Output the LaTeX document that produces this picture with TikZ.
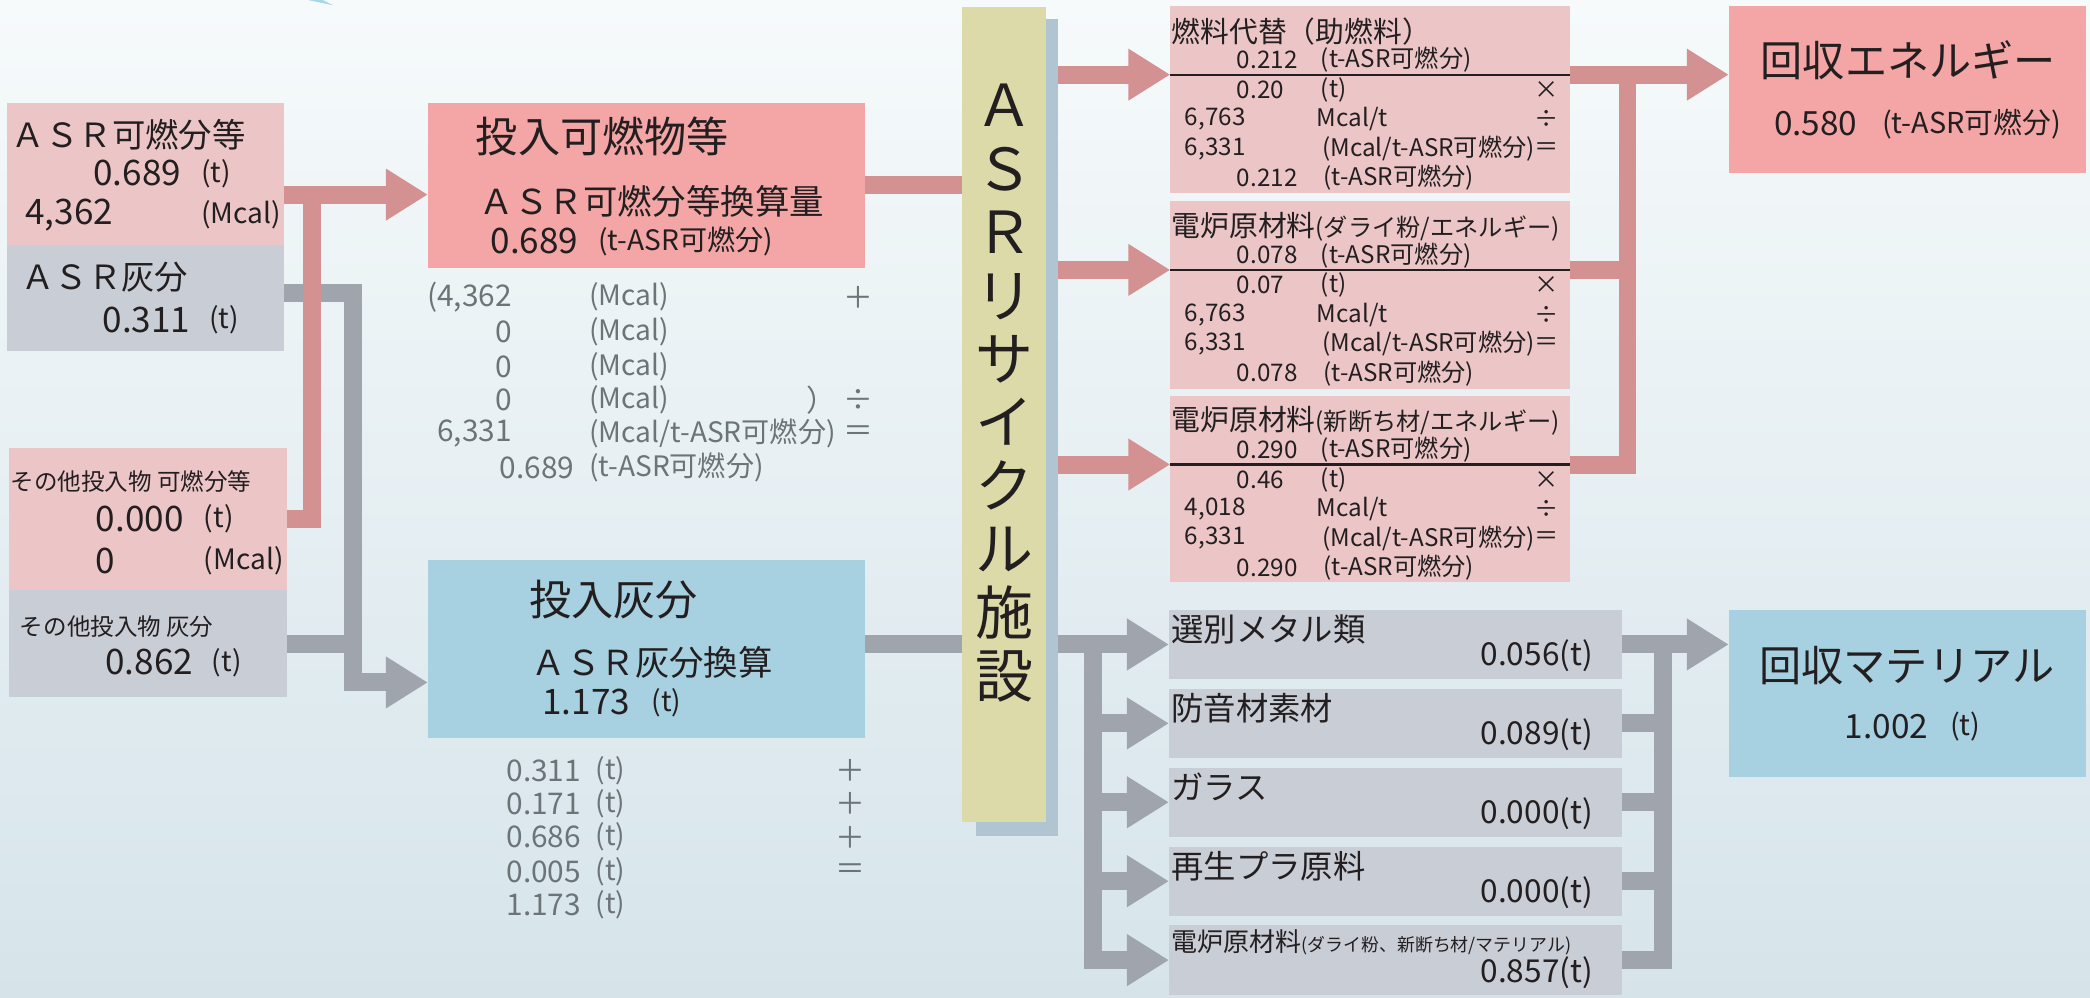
\documentclass[tikz,border=0pt]{standalone}
\usepackage{fontspec}
\setmainfont{Noto Sans CJK JP}
\usetikzlibrary{arrows.meta, fit, positioning}
\definecolor{bgtop}{RGB}{246,250,251}
\definecolor{bgbottom}{RGB}{214,228,234}
\definecolor{pinkcolor}{RGB}{236,198,199}
\definecolor{salmoncolor}{RGB}{243,166,165}
\definecolor{graycolor}{RGB}{201,205,213}
\definecolor{bluecolor}{RGB}{167,208,224}
\definecolor{barcolor}{RGB}{219,218,168}
\definecolor{shadecolor}{RGB}{176,196,209}
\definecolor{redflowcolor}{RGB}{211,145,146}
\definecolor{grayflowcolor}{RGB}{160,165,173}
\definecolor{inkcolor}{RGB}{35,31,32}
\definecolor{calccolor}{RGB}{108,116,120}
\definecolor{slivercolor}{RGB}{166,214,234}

\begin{document}
\begin{tikzpicture}[
    x=0.013333cm, y=-0.013333cm,
    plainbox/.style={inner sep=0pt, outer sep=0pt},
    pinkbox/.style={plainbox, fill=pinkcolor},
    salmonbox/.style={plainbox, fill=salmoncolor},
    graybox/.style={plainbox, fill=graycolor},
    bluebox/.style={plainbox, fill=bluecolor},
    txt/.style={inner sep=0pt, outer sep=0pt, anchor=west, text=inkcolor, font=\fontsize{#1}{#1}\selectfont},
    txtr/.style={txt=#1, anchor=east},
    txtc/.style={txt=#1, anchor=center},
    calctxt/.style={txt=#1, text=calccolor},
    calcr/.style={calctxt=#1, anchor=east},
    calcc/.style={calctxt=#1, anchor=center},
    redflow/.style={draw=redflowcolor, line width=1.8mm},
    grayflow/.style={draw=grayflowcolor, line width=1.8mm},
    flowtip/.style={-{Triangle[length=4.2mm, width=4.9mm]}},
    divider/.style={draw=inkcolor, line width=0.6pt}
]
    \useasboundingbox (0,0) rectangle (1568,748);
    \fill[top color=bgtop, bottom color=bgbottom] (0,0) rectangle (1568,748);
    \fill[slivercolor] (231,0) -- (242,0) -- (250,4) -- cycle;

    \node[pinkbox, fit={(5,77) (213,184)}] (asrc) {};
    \node[graybox, fit={(5,184) (213,263)}] (asra) {};
    \node[pinkbox, fit={(7,336) (215,443)}] (othc) {};
    \node[graybox, fit={(7,443) (215,523)}] (otha) {};
    \node[salmonbox, fit={(321,77) (649,201)}] (combin) {};
    \node[bluebox, fit={(321,420) (649,554)}] (ashin) {};
    \node[plainbox, fill=shadecolor, fit={(732,14) (794,627)}] (barsh) {};
    \node[plainbox, fill=barcolor, fit={(722,5) (785,617)}, align=center, text=inkcolor,
          font=\fontsize{16.5}{18.06}\selectfont] (bar) {Ａ\\Ｓ\\Ｒ\\リ\\サ\\イ\\ク\\ル\\施\\設};
    \node[pinkbox, fit={(878,4.5) (1178,145)}] (fuel) {};
    \node[pinkbox, fit={(878,151) (1178,292)}] (dalai) {};
    \node[pinkbox, fit={(878,297) (1178,437)}] (newcut) {};
    \node[graybox, fit={(877,457.5) (1217,509.5)}] (metal) {};
    \node[graybox, fit={(877,516.7) (1217,568.7)}] (sound) {};
    \node[graybox, fit={(877,575.9) (1217,627.9)}] (glass) {};
    \node[graybox, fit={(877,635.1) (1217,687.1)}] (plastic) {};
    \node[graybox, fit={(877,694.3) (1217,746.3)}] (furnace) {};
    \node[salmonbox, fit={(1297,4.5) (1565,130)}] (recen) {};
    \node[bluebox, fit={(1297,458) (1565,583)}] (remat) {};

    \coordinate (redjoin) at (234,146);
    \coordinate (grayjoin) at (264.5,219.5);
    \coordinate (graybend) at (264.5,512);
    \coordinate (fuel-in) at (878,56);
    \coordinate (fuel-out) at (1178,56);
    \coordinate (dalai-in) at (878,202.5);
    \coordinate (dalai-out) at (1178,202.5);
    \coordinate (newcut-in) at (878,348.5);
    \coordinate (newcut-out) at (1178,348.5);
    \coordinate (ejoin) at (1221,56);
    \coordinate (mtop) at (820,483.5);
    \coordinate (mjoin) at (1247.5,483.5);

    \draw[grayflow, flowtip] (asra.east |- grayjoin) -| (graybend) -- (ashin.west |- graybend);
    \draw[grayflow] (otha.east) -- (otha.east -| graybend);
    \draw[redflow, flowtip] (asrc.east |- redjoin) -- (combin.west |- redjoin);
    \draw[redflow] (othc.east) -| (redjoin);

    \draw[redflow] (combin.east) -- (combin.east -| bar.west);
    \draw[grayflow] (ashin.east |- metal.west) -- (bar.west |- metal.west);

    \draw[redflow, flowtip] (barsh.east |- fuel-in) -- (fuel-in);
    \draw[redflow, flowtip] (barsh.east |- dalai-in) -- (dalai-in);
    \draw[redflow, flowtip] (barsh.east |- newcut-in) -- (newcut-in);
    \draw[divider] (fuel-in) -- (fuel-out);
    \draw[divider] (dalai-in) -- (dalai-out);
    \draw[divider] (newcut-in) -- (newcut-out);
    \draw[redflow, flowtip] (fuel-out) -- (recen.west |- fuel-out);
    \draw[redflow] (newcut-out) -| (ejoin);
    \draw[redflow] (dalai-out) -- (dalai-out -| ejoin);

    \draw[grayflow, flowtip] (barsh.east |- metal.west) -- (metal.west);
    \draw[grayflow, flowtip] (mtop) |- (furnace.west);
    \draw[grayflow, flowtip] (mtop |- sound.west) -- (sound.west);
    \draw[grayflow, flowtip] (mtop |- glass.west) -- (glass.west);
    \draw[grayflow, flowtip] (mtop |- plastic.west) -- (plastic.west);
    \draw[grayflow, flowtip] (metal.east) -- (remat.west |- metal.east);
    \draw[grayflow] (furnace.east) -| (mjoin);
    \draw[grayflow] (sound.east) -- (sound.east -| mjoin);
    \draw[grayflow] (glass.east) -- (glass.east -| mjoin);
    \draw[grayflow] (plastic.east) -- (plastic.east -| mjoin);

    \node[txt=9.5] (asrc-name) at (9,101) {ＡＳＲ可燃分等};
    \node[txt=10] (asrc-ton) at (70,130) {0.689};
    \node[txt=8] (asrc-tonu) at (151,130) {(t)};
    \node[txt=10] (asrc-cal) at (19,161) {4,362};
    \node[txt=8] (asrc-calu) at (151,161) {(Mcal)};
    \node[txt=9.5] (asra-name) at (16,208) {ＡＳＲ灰分};
    \node[txt=10] (asra-ton) at (77,240) {0.311};
    \node[txt=8] (asra-tonu) at (157,240) {(t)};
    \node[txt=6.7] (othc-name) at (8,361) {その他投入物\ 可燃分等};
    \node[txt=10] (othc-ton) at (72,389) {0.000};
    \node[txt=8] (othc-tonu) at (153,389) {(t)};
    \node[txt=10] (othc-cal) at (72,421) {0};
    \node[txt=8] (othc-calu) at (153,421) {(Mcal)};
    \node[txt=6.7] (otha-name) at (15,470) {その他投入物\ 灰分};
    \node[txt=10] (otha-ton) at (79,497) {0.862};
    \node[txt=8] (otha-tonu) at (159,497) {(t)};

    \node[txt=12] (combin-head) at (357,102) {投入可燃物等};
    \node[txt=9.8] (combin-sub) at (360,151) {ＡＳＲ可燃分等換算量};
    \node[txt=10] (combin-val) at (368,181) {0.689};
    \node[txt=8] (combin-valu) at (449,181) {(t-ASR可燃分)};
    \node[calcr=8.5] (ec1) at (384,223) {(4,362};
    \node[calctxt=8] (ec1u) at (442,223) {(Mcal)};
    \node[calcc=8.5] (ec1o) at (644,223) {＋};
    \node[calcr=8.5] (ec2) at (384,249) {0};
    \node[calctxt=8] (ec2u) at (442,249) {(Mcal)};
    \node[calcr=8.5] (ec3) at (384,275) {0};
    \node[calctxt=8] (ec3u) at (442,275) {(Mcal)};
    \node[calcr=8.5] (ec4) at (384,300) {0};
    \node[calctxt=8] (ec4u) at (442,300) {(Mcal)};
    \node[calcc=8.5] (ec4p) at (616,300) {）};
    \node[calcc=8.5] (ec4o) at (644,300) {÷};
    \node[calcr=8.5] (ec5) at (384,325) {6,331};
    \node[calctxt=8] (ec5u) at (442,325) {(Mcal/t-ASR可燃分)};
    \node[calcc=8.5] (ec5o) at (644,325) {＝};
    \node[calctxt=8.5] (ec6) at (375,351) {0.689};
    \node[calctxt=8] (ec6u) at (442,351) {(t-ASR可燃分)};

    \node[txt=12] (ashin-head) at (397,450) {投入灰分};
    \node[txt=9.8] (ashin-sub) at (399,497) {ＡＳＲ灰分換算};
    \node[txt=10] (ashin-val) at (407,527) {1.173};
    \node[txt=8] (ashin-valu) at (489,527) {(t)};
    \node[calctxt=8.5] (ac1) at (380,578) {0.311};
    \node[calctxt=8] (ac1u) at (447,578) {(t)};
    \node[calcc=8.5] (ac1o) at (638,578) {＋};
    \node[calctxt=8.5] (ac2) at (380,603) {0.171};
    \node[calctxt=8] (ac2u) at (447,603) {(t)};
    \node[calcc=8.5] (ac2o) at (638,603) {＋};
    \node[calctxt=8.5] (ac3) at (380,628) {0.686};
    \node[calctxt=8] (ac3u) at (447,628) {(t)};
    \node[calcc=8.5] (ac3o) at (638,628) {＋};
    \node[calctxt=8.5] (ac4) at (380,654) {0.005};
    \node[calctxt=8] (ac4u) at (447,654) {(t)};
    \node[calcc=8.5] (ac4o) at (638,654) {＝};
    \node[calctxt=8.5] (ac5) at (380,679) {1.173};
    \node[calctxt=8] (ac5u) at (447,679) {(t)};

    \node[txt=8.2] (fuel-name) at (879,23.5) {燃料代替（助燃料）};
    \node[txt=6.9] (fuel-v) at (928,45) {0.212};
    \node[txt=6.9] (fuel-vu) at (991,45) {(t-ASR可燃分)};
    \node[txt=6.9] (fuel-t) at (928,67.5) {0.20};
    \node[txt=6.9] (fuel-tu) at (991,67.5) {(t)};
    \node[txtc=6.9] (fuel-to) at (1160,67.5) {×};
    \node[txt=6.9] (fuel-c) at (889,89.5) {6,763};
    \node[txt=6.9] (fuel-cu) at (988,89.5) {Mcal/t};
    \node[txtc=6.9] (fuel-co) at (1160,89.5) {÷};
    \node[txt=6.9] (fuel-k) at (889,111.5) {6,331};
    \node[txt=6.9] (fuel-ku) at (992,111.5) {(Mcal/t-ASR可燃分)};
    \node[txtc=6.9] (fuel-ko) at (1160,111.5) {＝};
    \node[txt=6.9] (fuel-res) at (928,133.5) {0.212};
    \node[txt=6.9] (fuel-resu) at (993,133.5) {(t-ASR可燃分)};

    \node[txt=8.2] (dalai-name) at (879,170) {電炉原材料{\fontsize{6.9}{6.9}\selectfont(ダライ粉/エネルギー)}};
    \node[txt=6.9] (dalai-v) at (928,191.5) {0.078};
    \node[txt=6.9] (dalai-vu) at (991,191.5) {(t-ASR可燃分)};
    \node[txt=6.9] (dalai-t) at (928,214) {0.07};
    \node[txt=6.9] (dalai-tu) at (991,214) {(t)};
    \node[txtc=6.9] (dalai-to) at (1160,214) {×};
    \node[txt=6.9] (dalai-c) at (889,236) {6,763};
    \node[txt=6.9] (dalai-cu) at (988,236) {Mcal/t};
    \node[txtc=6.9] (dalai-co) at (1160,236) {÷};
    \node[txt=6.9] (dalai-k) at (889,258) {6,331};
    \node[txt=6.9] (dalai-ku) at (992,258) {(Mcal/t-ASR可燃分)};
    \node[txtc=6.9] (dalai-ko) at (1160,258) {＝};
    \node[txt=6.9] (dalai-res) at (928,280) {0.078};
    \node[txt=6.9] (dalai-resu) at (993,280) {(t-ASR可燃分)};

    \node[txt=8.2] (newcut-name) at (879,316) {電炉原材料{\fontsize{6.9}{6.9}\selectfont(新断ち材/エネルギー)}};
    \node[txt=6.9] (newcut-v) at (928,337.5) {0.290};
    \node[txt=6.9] (newcut-vu) at (991,337.5) {(t-ASR可燃分)};
    \node[txt=6.9] (newcut-t) at (928,360) {0.46};
    \node[txt=6.9] (newcut-tu) at (991,360) {(t)};
    \node[txtc=6.9] (newcut-to) at (1160,360) {×};
    \node[txt=6.9] (newcut-c) at (889,382) {4,018};
    \node[txt=6.9] (newcut-cu) at (988,382) {Mcal/t};
    \node[txtc=6.9] (newcut-co) at (1160,382) {÷};
    \node[txt=6.9] (newcut-k) at (889,404) {6,331};
    \node[txt=6.9] (newcut-ku) at (992,404) {(Mcal/t-ASR可燃分)};
    \node[txtc=6.9] (newcut-ko) at (1160,404) {＝};
    \node[txt=6.9] (newcut-res) at (928,426) {0.290};
    \node[txt=6.9] (newcut-resu) at (993,426) {(t-ASR可燃分)};

    \node[txt=9.2] (metal-name) at (879,472) {選別メタル類};
    \node[txtr=9] (metal-val) at (1195,492) {0.056(t)};
    \node[txt=9.2] (sound-name) at (879,531.2) {防音材素材};
    \node[txtr=9] (sound-val) at (1195,551.2) {0.089(t)};
    \node[txt=9.2] (glass-name) at (879,590.4) {ガラス};
    \node[txtr=9] (glass-val) at (1195,610.4) {0.000(t)};
    \node[txt=9.2] (plastic-name) at (879,649.6) {再生プラ原料};
    \node[txtr=9] (plastic-val) at (1195,669.6) {0.000(t)};
    \node[txt=7.4] (furnace-name) at (879,707) {電炉原材料{\fontsize{5.1}{5.1}\selectfont(ダライ粉、新断ち材/マテリアル)}};
    \node[txtr=9] (furnace-val) at (1195,730) {0.857(t)};

    \node[txt=12] (recen-name) at (1321,45) {回収エネルギー};
    \node[txt=9.5] (recen-val) at (1331,93) {0.580};
    \node[txt=8.2] (recen-valu) at (1412,93) {(t-ASR可燃分)};
    \node[txt=12] (remat-name) at (1320,499) {回収マテリアル};
    \node[txt=9.5] (remat-val) at (1384,545) {1.002};
    \node[txt=8.2] (remat-valu) at (1463,545) {(t)};
\end{tikzpicture}
\end{document}
